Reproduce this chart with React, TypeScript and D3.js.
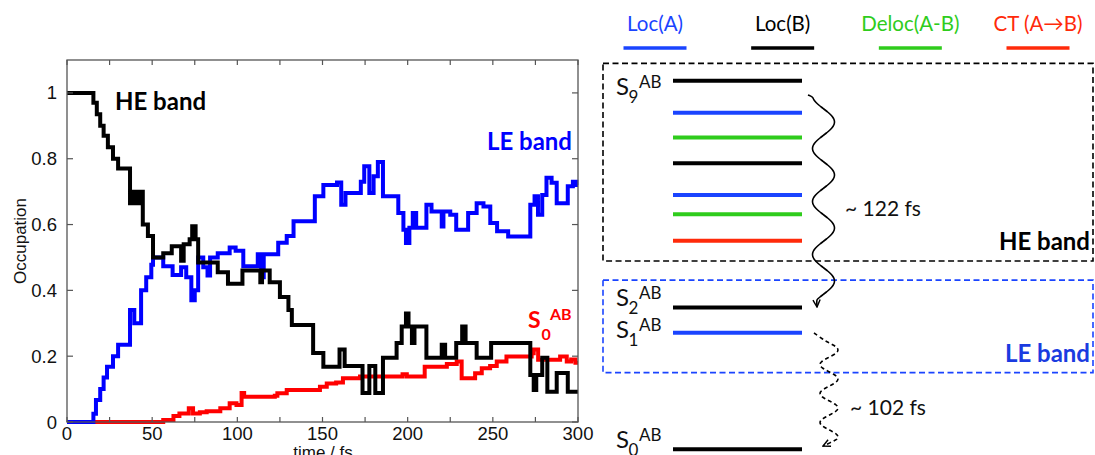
import React from 'react';
import * as d3 from 'd3';

// ---------- Data: left panel (occupation vs time) ----------
const heTimes = [0, 15.5, 17.5, 19.5, 21.5, 24, 27, 30, 37, 39, 41, 42.5, 44.5, 47.5, 50.5, 56.5, 61.5, 67, 68.5, 72, 73.5, 75.5, 77, 88.5, 94.5, 103, 113.5, 114.5, 119, 125, 130, 132, 144.5, 150.5, 160, 163, 173.5, 177.5, 181, 185.5, 193.5, 196.5, 199, 200.5, 202.5, 204, 211, 220, 222, 228.5, 232, 234, 240.5, 249, 272, 274, 275.5, 279, 282, 287.5, 294, 300];
const heValues = [1.0, 0.97, 0.935, 0.9, 0.87, 0.835, 0.8, 0.77, 0.665, 0.7, 0.665, 0.7, 0.6, 0.565, 0.5, 0.513, 0.534, 0.49, 0.54, 0.555, 0.595, 0.555, 0.485, 0.455, 0.42, 0.46, 0.425, 0.46, 0.425, 0.38, 0.34, 0.295, 0.21, 0.168, 0.22, 0.17, 0.088, 0.17, 0.088, 0.195, 0.24, 0.29, 0.33, 0.29, 0.24, 0.29, 0.195, 0.235, 0.195, 0.24, 0.29, 0.24, 0.195, 0.24, 0.143, 0.097, 0.143, 0.195, 0.092, 0.149, 0.092, 0.092];

const leTimes = [0, 15.5, 17, 19.5, 21.5, 23.5, 27, 30, 37, 39.5, 43.5, 46.5, 49.5, 50.5, 56.5, 62, 67, 70, 73, 75, 77, 80, 82.5, 84, 88.5, 95.5, 99, 103.5, 112, 114, 115.5, 124, 129, 133, 145.5, 150.5, 158.5, 161, 163.5, 172.5, 174.5, 177.5, 180, 182.5, 185.5, 194.5, 197.5, 199, 201, 203, 205, 211, 214, 220, 221, 225, 228.5, 235.5, 240.5, 244.5, 248.5, 252.5, 259, 272, 274.5, 276.5, 279, 281.5, 284.5, 287.5, 294, 297, 299, 300];
const leValues = [0, 0.025, 0.067, 0.1, 0.135, 0.168, 0.2, 0.235, 0.34, 0.3, 0.4, 0.44, 0.478, 0.5, 0.473, 0.447, 0.47, 0.44, 0.37, 0.4, 0.5, 0.47, 0.445, 0.5, 0.513, 0.53, 0.52, 0.473, 0.51, 0.44, 0.51, 0.545, 0.565, 0.61, 0.686, 0.72, 0.728, 0.66, 0.696, 0.73, 0.777, 0.696, 0.747, 0.79, 0.686, 0.635, 0.584, 0.544, 0.59, 0.635, 0.59, 0.66, 0.64, 0.594, 0.64, 0.63, 0.584, 0.635, 0.665, 0.655, 0.605, 0.58, 0.564, 0.66, 0.686, 0.63, 0.69, 0.742, 0.727, 0.665, 0.716, 0.73, 0.72, 0.72];

const s0Times = [0, 56.5, 62.5, 66, 71.5, 74, 78, 82, 90, 95.5, 99.5, 102.5, 104, 122, 123.5, 129, 148.5, 152.5, 158, 162, 172, 197, 199.5, 210, 223, 228.8, 231.7, 239.6, 243.5, 248.4, 252.3, 258, 272.8, 274, 276.6, 289.5, 293.4, 296, 298.5, 300];
const s0Values = [0, 0.006, 0.018, 0.026, 0.042, 0.026, 0.03, 0.033, 0.042, 0.057, 0.052, 0.088, 0.077, 0.08, 0.087, 0.097, 0.107, 0.117, 0.12, 0.133, 0.138, 0.145, 0.138, 0.168, 0.176, 0.184, 0.133, 0.148, 0.163, 0.17, 0.184, 0.199, 0.209, 0.22, 0.189, 0.199, 0.184, 0.19, 0.18, 0.18];

const xTicks = [0, 25, 50, 75, 100, 125, 150, 175, 200, 225, 250, 275, 300];
const xTickLabels = [0, 50, 100, 150, 200, 250, 300];
const yTicks = [0, 0.2, 0.4, 0.6, 0.8, 1];

// ---------- Data: right panel (energy level scheme) ----------
const legendLabels = ['Loc(A)', 'Loc(B)', 'Deloc(A-B)', 'CT (A\u2192B)'];
const legendTypes = ['LocA', 'LocB', 'Deloc', 'CT'];
const levelEnergies = [10, 9.13, 8.46, 7.76, 6.9, 6.38, 5.66, 3.85, 3.16, 0];
const levelTypes = ['LocB', 'LocA', 'Deloc', 'LocB', 'LocA', 'Deloc', 'CT', 'LocB', 'LocA', 'LocB'];
const stateLabels = ['9', '2', '1', '0'];
const stateLevelIndex = [0, 7, 8, 9];
const bandNames = ['HE band', 'LE band'];
const bandTop = [10.47, 4.59];
const bandBottom = [5.11, 2.08];
const transferTimes = ['~ 122 fs', '~ 102 fs'];

const typeColor: Record<string, string> = {
  LocA: '#1a44ff',
  LocB: '#000000',
  Deloc: '#2fcc1c',
  CT: '#ff2a0a',
};

const zip = (t: number[], v: number[]) => t.map((d, i) => [d, v[i]] as [number, number]);

export default function App() {
  // Left panel scales
  const x = d3.scaleLinear().domain([0, 300]).range([67, 578]);
  const y = d3.scaleLinear().domain([0, 1.1]).range([422, 60]);
  const line = d3
    .line<[number, number]>()
    .x((d) => x(d[0]))
    .y((d) => y(d[1]))
    .curve(d3.curveStepAfter);

  // Right panel scale
  const e = d3.scaleLinear().domain([0, 10]).range([449.3, 80.7]);
  const lvlX0 = 673;
  const lvlX1 = 802;
  const legendX = d3.scalePoint<string>().domain(legendLabels).range([655, 1038]);

  const sansL = 'Liberation Sans, Arial, sans-serif';
  const sansR = 'Lato, "Open Sans", sans-serif';

  // wavy arrows
  const wave = (y0: number, y1: number, cx: number, amp: number, period: number, phaseY: number) => {
    const pts: [number, number][] = [];
    for (let yy = y0; yy <= y1; yy += 1) {
      pts.push([cx + amp * Math.sin(((yy - phaseY) / period) * 2 * Math.PI + Math.PI / 2), yy]);
    }
    return pts;
  };
  const wl = d3.line<[number, number]>().x((d) => d[0]).y((d) => d[1]).curve(d3.curveBasis);
  const solidPts = wave(97, 300, 823.5, 11, 53, 122);
  solidPts.unshift([808, 95]);
  solidPts.push([817, 307]);
  const dashPts = wave(340, 440, 829, 9, 29, 350);
  dashPts.unshift([814, 333]);
  dashPts.push([823, 446]);

  return (
    <svg
      width={1095}
      height={455}
      style={{ position: 'fixed', left: 0, top: 0, background: '#fff' }}
    >
      <defs>
        <marker id="chev" viewBox="0 0 10 10" refX="9" refY="5" markerWidth="9" markerHeight="9" orient="auto" markerUnits="userSpaceOnUse">
          <path d="M1,1 L9,5 L1,9" fill="none" stroke="#000" strokeWidth={1.6} />
        </marker>
      </defs>

      {/* ----- Left panel ----- */}
      <g>
        <path d={line(zip(s0Times, s0Values)) || ''} fill="none" stroke="#ff0000" strokeWidth={4} />
        <path d={line(zip(leTimes, leValues)) || ''} fill="none" stroke="#0000ff" strokeWidth={4} />
        <path d={line(zip(heTimes, heValues)) || ''} fill="none" stroke="#000" strokeWidth={4} />

        <rect x={x(0)} y={y(1.1)} width={x(300) - x(0)} height={y(0) - y(1.1)} fill="none" stroke="#555" strokeWidth={1.3} />
        {xTicks.map((t) => (
          <g key={'xt' + t}>
            <line x1={x(t)} x2={x(t)} y1={y(0)} y2={y(0) - 5} stroke="#555" strokeWidth={1.2} />
            <line x1={x(t)} x2={x(t)} y1={y(1.1)} y2={y(1.1) + 5} stroke="#555" strokeWidth={1.2} />
          </g>
        ))}
        {yTicks.map((t) => (
          <g key={'yt' + t}>
            <line x1={x(0)} x2={x(0) + 6} y1={y(t)} y2={y(t)} stroke="#555" strokeWidth={1.2} />
            <line x1={x(300)} x2={x(300) - 6} y1={y(t)} y2={y(t)} stroke="#555" strokeWidth={1.2} />
            <text x={x(0) - 10} y={y(t) + 6.5} textAnchor="end" fontFamily={sansL} fontSize={18.5} fill="#111">
              {d3.format('~g')(t)}
            </text>
          </g>
        ))}
        {xTickLabels.map((t) => (
          <text key={'xl' + t} x={x(t)} y={440} textAnchor="middle" fontFamily={sansL} fontSize={18.5} fill="#111">
            {t}
          </text>
        ))}
        <text x={323} y={458} textAnchor="middle" fontFamily={sansL} fontSize={17} fill="#111">
          time / fs
        </text>
        <text transform="translate(26,241) rotate(-90)" textAnchor="middle" fontFamily={sansL} fontSize={17} fill="#111">
          Occupation
        </text>

        <text x={115} y={110} fontFamily={sansR} fontWeight={700} fontSize={24} fill="#000">
          HE band
        </text>
        <text x={572} y={149.5} textAnchor="end" fontFamily={sansR} fontWeight={700} fontSize={24} fill="#0000ff">
          LE band
        </text>
        <g fontFamily={sansR} fontWeight={700} fill="#ff0000">
          <text x={528} y={328} fontSize={23}>S</text>
          <text x={541.5} y={340} fontSize={16}>0</text>
          <text x={550} y={320} fontSize={16}>AB</text>
        </g>
      </g>

      {/* ----- Right panel ----- */}
      <g fontFamily={sansR}>
        {legendLabels.map((l, i) => (
          <g key={'lg' + l}>
            <text x={legendX(l)} y={31} textAnchor="middle" fontSize={20.5} fill={typeColor[legendTypes[i]]}>
              {l}
            </text>
            <line x1={(legendX(l) || 0) - 31.5} x2={(legendX(l) || 0) + 31.5} y1={48} y2={48} stroke={typeColor[legendTypes[i]]} strokeWidth={3.5} />
          </g>
        ))}

        {bandNames.map((b, i) => (
          <g key={'band' + b}>
            <rect
              x={603}
              y={e(bandTop[i])}
              width={490}
              height={e(bandBottom[i]) - e(bandTop[i])}
              fill="none"
              stroke={i === 0 ? '#000' : '#1a44ff'}
              strokeWidth={1.6}
              strokeDasharray="6,3.5"
            />
            <text x={1090} y={e(bandBottom[i]) - 11} textAnchor="end" fontWeight={700} fontSize={24} fill={i === 0 ? '#000' : '#1a3be0'}>
              {b}
            </text>
          </g>
        ))}

        {levelEnergies.map((en, i) => (
          <line key={'lv' + i} x1={lvlX0} x2={lvlX1} y1={e(en)} y2={e(en)} stroke={typeColor[levelTypes[i]]} strokeWidth={4} />
        ))}

        {stateLabels.map((s, i) => {
          const ly = e(levelEnergies[stateLevelIndex[i]]);
          const dy = [14.3, -1.3, 5.3, -1.3][i];
          const base = ly + dy;
          return (
            <g key={'sl' + s} fill="#111">
              <text x={616} y={base} fontSize={24}>S</text>
              <text x={628.5} y={base + 8} fontSize={17}>{s}</text>
              <text x={639} y={base - 7} fontSize={17}>AB</text>
            </g>
          );
        })}

        <path d={wl(solidPts) || ''} fill="none" stroke="#000" strokeWidth={1.6} markerEnd="url(#chev)" />
        <path d={wl(dashPts) || ''} fill="none" stroke="#000" strokeWidth={1.6} strokeDasharray="4,3" markerEnd="url(#chev)" />

        <text x={845} y={216} fontSize={21} fill="#111">{transferTimes[0]}</text>
        <text x={850} y={415} fontSize={21} fill="#111">{transferTimes[1]}</text>
      </g>
    </svg>
  );
}
